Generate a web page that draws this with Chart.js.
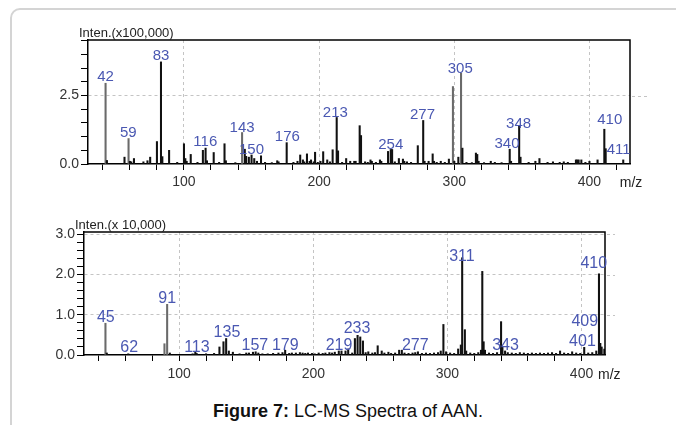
<!DOCTYPE html>
<html>
<head>
<meta charset="utf-8">
<script src="https://cdn.jsdelivr.net/npm/chart.js@4.4.1/dist/chart.umd.min.js"></script>
<style>
  body { margin:0; background:#fff; width:676px; height:425px; overflow:hidden; position:relative;
         font-family:"Liberation Sans", Arial, sans-serif; }
  .frame { position:absolute; left:10px; top:8px; width:720px; height:460px;
           border:2px solid #d4d4d4; border-radius:10px; }
  canvas { position:absolute; left:0; }
  #topChart { top:0; }
  #bottomChart { top:200px; }
  .caption { position:absolute; top:401px; left:0; width:696px; text-align:center; font-size:18px; color:#111; }
</style>
</head>
<body>
<div class="frame"></div>
<canvas id="topChart" width="676" height="200"></canvas>
<canvas id="bottomChart" width="676" height="190"></canvas>
<div class="caption"><b>Figure 7:</b> LC-MS Spectra of AAN.</div>
<script>
// upper spectrum, intensity x100,000
var topMz  = [42,43,56,59,60,61,63,70,73,75,80,83,84,89,95,100,101,102,105,110,114,116,117,122,126,130,131,138,
  143,145,146,148,150,152,154,157,160,165,169,170,176,181,184,186,188,189,191,193,194,196,197,199,201,203,206,208,
  210,213,214,217,220,223,226,227,230,231,234,236,238,239,242,245,246,251,253,254,256,259,262,263,265,268,273,277,
  278,281,284,285,287,290,293,296,299,300,303,305,306,309,313,316,317,318,322,327,330,335,341,342,348,349,355,360,
  363,369,373,378,381,384,390,391,392,394,397,400,406,411,412,425];
var topInt = [2.95,0.13,0.25,0.93,0.1,0.08,0.2,0.08,0.12,0.25,0.82,3.73,0.27,0.5,0.06,0.74,0.2,0.1,0.35,0.06,0.5,0.58,0.12,0.42,0.06,0.74,0.12,0.05,
  1.15,0.54,0.28,0.25,0.33,0.2,0.1,0.3,0.06,0.05,0.12,0.08,0.78,0.06,0.1,0.33,0.15,0.08,0.37,0.1,0.15,0.08,0.43,0.06,0.1,0.45,0.15,0.08,
  0.52,1.70,0.48,0.06,0.2,0.1,0.1,0.1,1.40,1.04,0.08,0.06,0.15,0.1,0.06,0.15,0.1,0.46,0.53,0.53,0.08,0.2,0.18,0.1,0.08,0.06,0.67,1.59,
  0.1,0.1,0.37,0.1,0.06,0.1,0.06,0.18,2.83,0.1,0.25,3.32,0.58,0.06,0.05,0.4,0.35,0.1,0.05,0.1,0.06,0.05,0.54,0.1,1.39,0.25,0.06,0.1,
  0.2,0.06,0.08,0.06,0.08,0.06,0.15,0.15,0.15,0.15,0.06,0.1,0.15,1.27,0.56,0.15];
var topLabelText  = ['42','59','83','116','143','150','176','213','254','277','305','340','348','410','411'];
var topLabelMz    = [42,58.8,83,115.8,143,150,176.5,212,253,276.5,304.4,339,347.6,415,421.6];
var topLabelLevel = [3.02,1.0,3.79,0.65,1.16,0.35,0.83,1.73,0.56,1.65,3.34,0.59,1.33,1.45,0.35];

// lower spectrum, intensity x10,000
var botMz  = [45,46,62,89,91,93,110,112,113,120,126,130,133,135,137,140,145,150,152,155,157,159,162,166,170,174,177,179,
  182,184,187,190,192,194,196,199,201,204,207,209,212,214,216,219,221,224,226,229,231,233,235,237,239,241,244,246,248,
  251,253,256,258,261,264,266,268,271,274,276,278,281,284,287,290,293,295,297,299,302,305,308,310,311,313,314,317,320,
  323,325,326,327,328,331,334,337,340,341,343,345,348,351,354,357,360,363,366,369,372,375,378,381,384,387,390,393,396,
  399,402,405,408,411,413,414,415,417];
var botInt = [0.79,0.05,0.03,0.28,1.26,0.05,0.03,0.07,0.04,0.03,0.04,0.2,0.33,0.41,0.1,0.07,0.03,0.05,0.05,0.07,0.08,0.05,0.03,0.03,0.04,0.05,0.06,0.12,
  0.04,0.05,0.05,0.06,0.05,0.04,0.05,0.04,0.03,0.05,0.04,0.05,0.06,0.05,0.07,0.1,0.1,0.1,0.15,0.05,0.41,0.49,0.45,0.35,0.06,0.08,0.05,0.06,0.23,
  0.1,0.05,0.07,0.04,0.05,0.12,0.12,0.05,0.04,0.05,0.06,0.08,0.04,0.05,0.04,0.05,0.06,0.1,0.76,0.08,0.05,0.04,0.15,0.25,2.42,0.63,0.1,0.05,0.04,
  0.06,0.12,2.08,0.33,0.12,0.05,0.04,0.06,0.83,0.2,0.1,0.06,0.05,0.04,0.06,0.05,0.04,0.05,0.04,0.05,0.04,0.05,0.06,0.04,0.1,0.05,0.04,0.08,0.05,
  0.04,0.19,0.05,0.06,0.1,2.02,0.29,0.2,0.15];
var botLabelText  = ['45','62','91','113','135','157','179','219','233','277','311','343','401','409','410'];
var botLabelMz    = [45.3,62.7,91,113.2,135.6,156.4,179.1,219.2,232.6,276,310.8,343.3,400.7,402.4,409.1];
var botLabelLevel = [0.83,0.08,1.29,0.08,0.44,0.12,0.12,0.12,0.54,0.12,2.33,0.12,0.23,0.71,2.17];

var FONT = '"Liberation Sans", Arial, sans-serif';
var greyTop = [42, 59, 143, 299, 305];
var greyBot = [45, 89, 91];

function isWhole(v, step) { return Math.abs(v / step - Math.round(v / step)) < 1e-6; }

function makeSpectrum(id, mz, inten, lblText, lblMz, lblLevel, cfg) {
  var points = mz.map(function (m, i) { return { x: m, y: inten[i] }; });

  var deco = {
    id: 'deco',
    afterDatasetsDraw: function (chart) {
      var ctx = chart.ctx, a = chart.chartArea, xs = chart.scales.x, ys = chart.scales.y;
      ctx.save();
      // dashed grid runs a little past the right frame, as in the instrument print
      ctx.strokeStyle = '#c4c4c4';
      ctx.lineWidth = 1;
      ctx.setLineDash([3, 3]);
      ys.ticks.forEach(function (t) {
        if (t.value > 0 && isWhole(t.value, cfg.yLabelStep)) {
          var py = Math.round(ys.getPixelForValue(t.value)) + 0.5;
          ctx.beginPath();
          ctx.moveTo(a.right + 2, py);
          ctx.lineTo(a.right + cfg.gridOver, py);
          ctx.stroke();
        }
      });
      ctx.setLineDash([]);
      // closing frame of the plot
      ctx.strokeStyle = '#000';
      ctx.lineWidth = 1.5;
      ctx.beginPath();
      ctx.moveTo(a.left, a.top);
      ctx.lineTo(a.right, a.top);
      ctx.lineTo(a.right, a.bottom);
      ctx.stroke();
      // peak annotations
      ctx.fillStyle = '#4a58b2';
      ctx.font = cfg.labelSize + 'px ' + FONT;
      ctx.textAlign = 'center';
      ctx.textBaseline = 'alphabetic';
      lblText.forEach(function (t, i) {
        ctx.fillText(t, xs.getPixelForValue(lblMz[i]), ys.getPixelForValue(lblLevel[i]));
      });
      // axis captions
      ctx.fillStyle = '#222';
      ctx.font = '13px ' + FONT;
      ctx.textAlign = 'left';
      ctx.fillText(cfg.title, a.left - cfg.titleShift, a.top - 3);
      ctx.font = '14px ' + FONT;
      ctx.textBaseline = 'middle';
      ctx.textAlign = cfg.mzAlign;
      ctx.fillText('m/z', a.right + cfg.mzShift, a.bottom + cfg.mzDrop);
      ctx.restore();
    }
  };

  return new Chart(document.getElementById(id), {
    type: 'bar',
    data: {
      datasets: [{
        data: points,
        barThickness: 1.4,
        backgroundColor: function (c) {
          return c.raw && cfg.grey.indexOf(c.raw.x) >= 0 ? '#6a6a6a' : '#111';
        }
      }]
    },
    options: {
      responsive: false,
      animation: false,
      layout: { padding: { top: cfg.padTop, right: cfg.padRight, left: 0, bottom: 0 } },
      plugins: { legend: { display: false }, tooltip: { enabled: false } },
      scales: {
        x: {
          type: 'linear',
          offset: false,
          min: cfg.xMin, max: cfg.xMax,
          afterFit: function (s) { s.height = cfg.xHeight; },
          border: { color: '#000', width: 1.5, dash: [3, 3] },
          grid: {
            offset: false,
            color: function (c) { return c.tick && isWhole(c.tick.value, 100) ? '#c4c4c4' : 'rgba(0,0,0,0)'; },
            tickColor: '#000', tickLength: 6, tickWidth: 1
          },
          ticks: {
            stepSize: 20, includeBounds: false, maxRotation: 0, autoSkip: false, padding: cfg.xPad,
            color: '#333', font: { family: FONT, size: 14 },
            callback: function (v) { return isWhole(v, 100) ? String(v) : ''; }
          }
        },
        y: {
          min: 0, max: cfg.yMax,
          afterFit: function (s) { s.width = cfg.yWidth; },
          border: { color: '#000', width: 1.5, dash: [3, 3] },
          grid: {
            color: function (c) {
              return c.tick && c.tick.value > 0 && isWhole(c.tick.value, cfg.yLabelStep) ? '#c4c4c4' : 'rgba(0,0,0,0)';
            },
            tickColor: '#000', tickLength: 7, tickWidth: 1
          },
          ticks: {
            stepSize: cfg.yStep, includeBounds: false, autoSkip: false, padding: 2,
            color: '#333', font: { family: FONT, size: 14 },
            callback: function (v) { return isWhole(v, cfg.yLabelStep) ? v.toFixed(1) : ''; }
          }
        }
      }
    },
    plugins: [deco]
  });
}

makeSpectrum('topChart', topMz, topInt, topLabelText, topLabelMz, topLabelLevel, {
  xMin: 29, xMax: 430, yMax: 4.53, yStep: 0.5, yLabelStep: 2.5,
  padTop: 40, padRight: 46, xHeight: 36, yWidth: 88, xPad: 4,
  labelSize: 15, title: 'Inten.(x100,000)', titleShift: 9,
  mzAlign: 'center', mzShift: 1, mzDrop: 19, gridOver: 18, grey: greyTop
});

makeSpectrum('bottomChart', botMz, botInt, botLabelText, botLabelMz, botLabelLevel, {
  xMin: 29, xMax: 417.5, yMax: 3.06, yStep: 0.2, yLabelStep: 1,
  padTop: 32, padRight: 71, xHeight: 35, yWidth: 84, xPad: 5,
  labelSize: 16, title: 'Inten.(x 10,000)', titleShift: 9,
  mzAlign: 'left', mzShift: -7, mzDrop: 20, gridOver: 10, grey: greyBot
});
</script>
</body>
</html>
